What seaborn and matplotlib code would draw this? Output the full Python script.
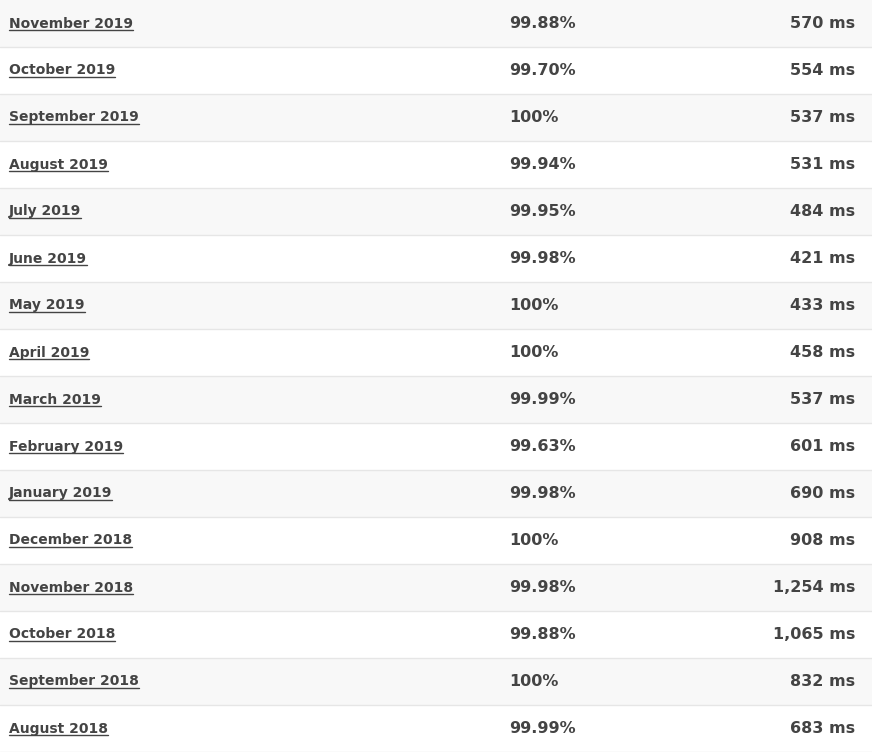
import matplotlib
matplotlib.use("Agg")
import matplotlib.pyplot as plt
import seaborn as sns
import pandas as pd

months = ["November 2019", "October 2019", "September 2019", "August 2019", "July 2019",
          "June 2019", "May 2019", "April 2019", "March 2019", "February 2019",
          "January 2019", "December 2018", "November 2018", "October 2018",
          "September 2018", "August 2018"]
uptime = ["99.88%", "99.70%", "100%", "99.94%", "99.95%", "99.98%", "100%", "100%",
          "99.99%", "99.63%", "99.98%", "100%", "99.98%", "99.88%", "100%", "99.99%"]
response_ms = [570, 554, 537, 531, 484, 421, 433, 458, 537, 601, 690, 908, 1254, 1065, 832, 683]

W, H = 872, 752
n = len(months)
df = pd.DataFrame({"row": range(n), "width": [W] * n,
                   "shade": ["odd" if i % 2 == 0 else "even" for i in range(n)]})

sns.set_theme(style="white")
fig = plt.figure(figsize=(W / 100, H / 100), dpi=100)
ax = fig.add_axes([0, 0, 1, 1])
sns.barplot(data=df, x="width", y="row", hue="shade", orient="h", width=1.0,
            palette={"odd": "#f8f8f8", "even": "#ffffff"}, dodge=False,
            legend=False, ax=ax, edgecolor="none")
ax.set_xlim(0, W)
ax.set_ylim(n - 0.5, -0.5)
ax.axis("off")
for i in range(n):
    ax.axhline(i + 0.5, color="#e6e6e6", lw=1)

txt = "#444444"
labels = []
for i in range(n):
    t = ax.text(9, i, months[i], fontsize=10, fontweight="bold", color=txt,
                va="center", ha="left", family="DejaVu Sans")
    labels.append(t)
    ax.text(509, i, uptime[i], fontsize=11.5, fontweight="bold", color=txt,
            va="center", ha="left", family="DejaVu Sans")
    ax.text(855, i, f"{response_ms[i]:,} ms", fontsize=11.5, fontweight="bold",
            color=txt, va="center", ha="right", family="DejaVu Sans")

# underline the month links
fig.canvas.draw()
r = fig.canvas.get_renderer()
inv = ax.transData.inverted()
for t in labels:
    bb = t.get_window_extent(renderer=r)
    (x0, y0), (x1, _) = inv.transform([(bb.x0, bb.y0 + 1), (bb.x1, bb.y0)])
    ax.plot([x0, x1], [y0, y0], color=txt, lw=1)

fig.savefig("out.png", dpi=100)
